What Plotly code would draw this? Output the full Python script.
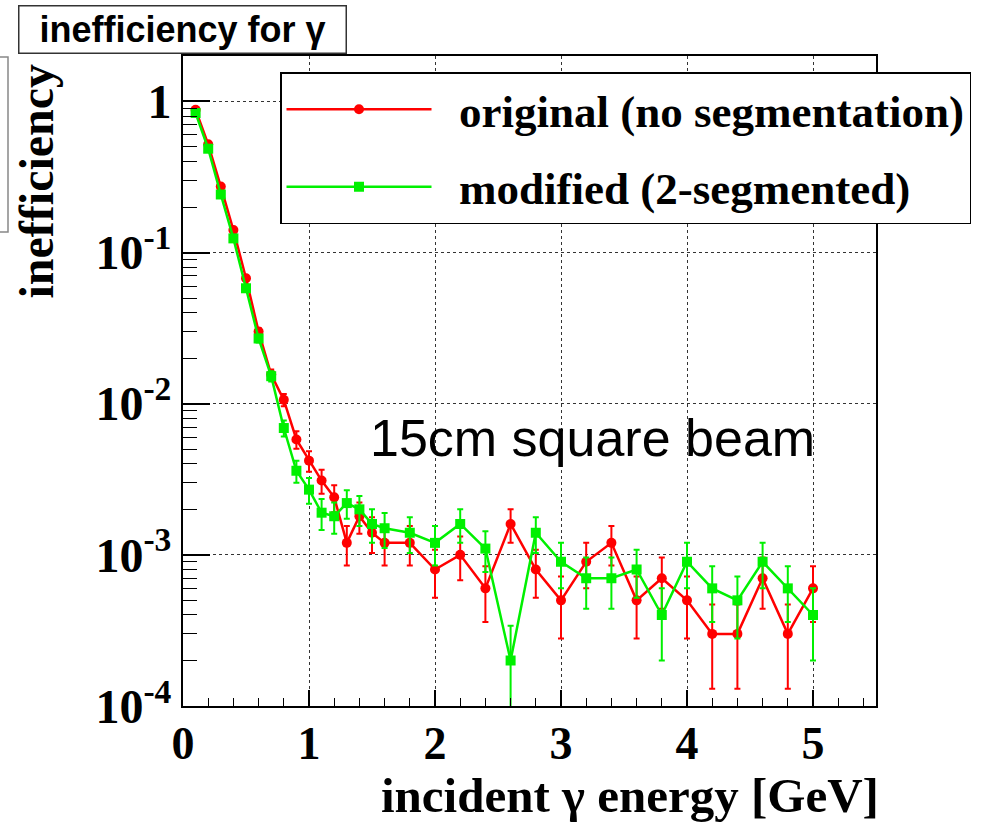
import plotly.graph_objects as go

energy = [0.1, 0.2, 0.3, 0.4, 0.5, 0.6, 0.7, 0.8, 0.9, 1.0, 1.1, 1.2, 1.3, 1.4, 1.5, 1.6,
          1.8, 2.0, 2.2, 2.4, 2.6, 2.8, 3.0, 3.2, 3.4, 3.6, 3.8, 4.0, 4.2, 4.4, 4.6, 4.8, 5.0]

orig_vals = [0.88, 0.52, 0.273, 0.141, 0.0676, 0.030, 0.0156, 0.0106, 0.0058, 0.0042, 0.0031,
             0.0024, 0.0012, 0.0018, 0.0014, 0.0012, 0.0012, 0.0008, 0.0010, 0.0006, 0.0016,
             0.0008, 0.0005, 0.0009, 0.0012, 0.0005, 0.0007, 0.0005, 0.0003, 0.0003, 0.0007,
             0.0003, 0.0006]
orig_errs = [0.0033, 0.005, 0.0045, 0.0035, 0.0025, 0.0017, 0.0012, 0.0010, 0.00076, 0.00065,
             0.00056, 0.00049, 0.00035, 0.00042, 0.00037, 0.00035, 0.00035, 0.00028, 0.00032,
             0.00024, 0.0004, 0.00028, 0.00022, 0.0003, 0.00035, 0.00022, 0.00026, 0.00022,
             0.00017, 0.00017, 0.00026, 0.00017, 0.00024]

mod_vals = [0.837, 0.486, 0.242, 0.124, 0.058, 0.027, 0.0152, 0.0069, 0.0036, 0.0027, 0.0019,
            0.0018, 0.0022, 0.0020, 0.0016, 0.0015, 0.0014, 0.0012, 0.0016, 0.0011, 0.0002,
            0.0014, 0.0009, 0.0007, 0.0007, 0.0008, 0.0004, 0.0009, 0.0006, 0.0005, 0.0009,
            0.0006, 0.0004]
mod_errs = [0.0037, 0.005, 0.0043, 0.0033, 0.0023, 0.0016, 0.0012, 0.00083, 0.0006, 0.00052,
            0.00044, 0.00042, 0.00047, 0.00045, 0.0004, 0.00039, 0.00037, 0.00035, 0.0004,
            0.00033, 0.00014, 0.00037, 0.0003, 0.00026, 0.00026, 0.00028, 0.0002, 0.0003,
            0.00024, 0.00022, 0.0003, 0.00024, 0.0002]

x_ticks = [0, 1, 2, 3, 4, 5]
x_ticktext = ["0", "1", "2", "3", "4", "5"]
y_ticks = [1e-4, 1e-3, 1e-2, 1e-1, 1]
y_ticktext = ["10<sup>-4</sup>", "10<sup>-3</sup>", "10<sup>-2</sup>", "10<sup>-1</sup>", "1"]

SERIF = "Liberation Serif, Times New Roman, serif"
SANS = "Liberation Sans, Arial, sans-serif"
NB = "\u00a0\u00a0"

fig = go.Figure()
fig.add_trace(go.Scatter(
    x=energy, y=orig_vals, mode="lines+markers", name=NB + "original (no segmentation)",
    legendgroup="a",
    line=dict(color="#ff0000", width=2.5),
    marker=dict(symbol="circle", size=10, color="#ff0000"),
    error_y=dict(type="data", array=orig_errs, visible=True, color="#ff0000",
                 thickness=2, width=3),
))
fig.add_trace(go.Scatter(
    x=energy, y=mod_vals, mode="lines+markers", name=NB + "modified (2-segmented)",
    legendgroup="b",
    line=dict(color="#00f000", width=2.5),
    marker=dict(symbol="square", size=10, color="#00f000"),
    error_y=dict(type="data", array=mod_errs, visible=True, color="#00f000",
                 thickness=2, width=3),
))

L, R, T, B = 183, 112, 56, 119
W, H = 988, 825
pw, ph = W - L - R, H - T - B

def px(xp):
    return (xp - L) / pw

def py(yp):
    return (H - B - yp) / ph

fig.update_layout(
    width=W, height=H,
    margin=dict(l=L, r=R, t=T, b=B, pad=0),
    paper_bgcolor="white", plot_bgcolor="white",
    showlegend=True,
    legend=dict(
        x=px(280), y=py(72), xanchor="left", yanchor="top",
        bgcolor="white", bordercolor="black", borderwidth=1.5,
        font=dict(family=SERIF, size=45, color="black", weight="bold"),
        traceorder="grouped", tracegroupgap=16, itemwidth=145,
    ),
    xaxis=dict(
        range=[0, 5.5], tickvals=x_ticks, ticktext=x_ticktext,
        ticks="inside", ticklen=16, tickwidth=1.5, tickcolor="black",
        minor=dict(ticks="inside", ticklen=8, dtick=0.2, tick0=0, tickcolor="black", tickwidth=1, showgrid=False),
        showgrid=True, gridcolor="#333333", griddash="dot", gridwidth=1,
        showline=True, linecolor="black", linewidth=2, mirror=True,
        zeroline=False, ticklabelstandoff=-4,
        tickfont=dict(family=SERIF, size=46, color="black", weight="bold"),
    ),
    yaxis=dict(
        type="log", range=[-4, 0.3], tickvals=y_ticks, ticktext=y_ticktext,
        ticks="inside", ticklen=27, tickwidth=1.5, tickcolor="black",
        minor=dict(ticks="inside", ticklen=14, dtick="D1", tickcolor="black", tickwidth=1, showgrid=False),
        showgrid=True, gridcolor="#333333", griddash="dot", gridwidth=1,
        showline=True, linecolor="black", linewidth=2, mirror=True,
        zeroline=False, ticklabelstandoff=0,
        tickfont=dict(family=SERIF, size=48, color="black", weight="bold"),
    ),
    annotations=[
        dict(text="<b>inefficiency for γ</b>", xref="paper", yref="paper",
             x=px(18), y=py(5), xanchor="left", yanchor="top",
             showarrow=False, font=dict(family=SANS, size=36, color="black"),
             bgcolor="white", bordercolor="#333333", borderwidth=1.5, borderpad=2,
             width=322, height=42, align="center"),
        dict(text="<b>inefficiency</b>", xref="paper", yref="paper",
             x=px(36), y=py(62), xanchor="center", yanchor="top", textangle=-90,
             showarrow=False, font=dict(family=SERIF, size=48, color="black")),
        dict(text="<b>incident γ energy [GeV]</b>", xref="paper", yref="paper",
             x=px(881), y=py(795), xanchor="right", yanchor="middle",
             showarrow=False, font=dict(family=SERIF, size=49, color="black")),
        dict(text="15cm square beam", xref="paper", yref="paper",
             x=px(368), y=py(438), xanchor="left", yanchor="middle",
             showarrow=False, font=dict(family=SANS, size=52, color="black")),
    ],
    shapes=[
        dict(type="rect", xref="paper", yref="paper",
             x0=px(-20), x1=px(8), y0=py(232), y1=py(57),
             line=dict(color="#888888", width=1.5), fillcolor="rgba(0,0,0,0)"),
    ],
)

fig.write_html("out.html", config={"displayModeBar": False},
               post_script="document.body.style.margin='0px';")
